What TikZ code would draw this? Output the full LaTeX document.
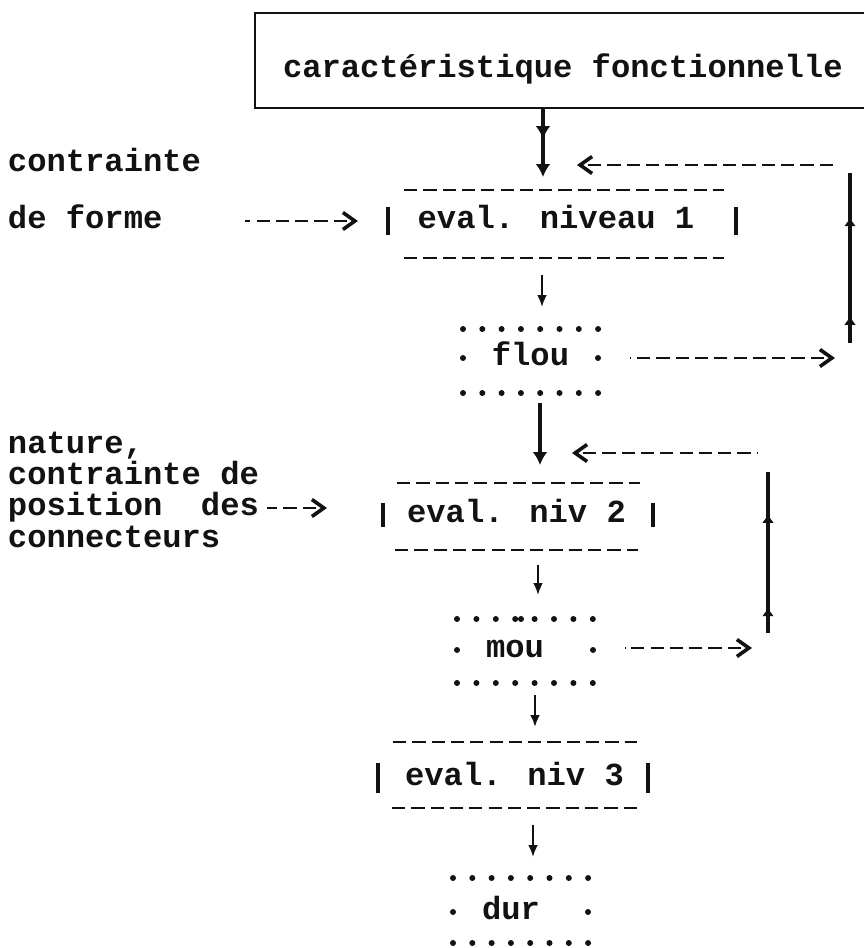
\documentclass[tikz,border=0pt]{standalone}
\usepackage{fontspec}
\newfontfamily\twfont{Liberation Mono}
\usetikzlibrary{arrows.meta,decorations.markings,calc}
\definecolor{ink}{RGB}{18,18,18}
\tikzset{
  tw/.style={font=\twfont\bfseries\fontsize{16.08pt}{19pt}\selectfont, inner sep=0pt, outer sep=0pt, text=ink},
  frame/.style={draw=none, inner sep=0pt, outer sep=0pt},
  boxline/.style={draw=ink, line width=1.4pt},
  bar/.style={draw=ink, line width=1.6pt},
  tdash/.style={draw=ink, line width=1.4pt, dash pattern=on 6.6pt off 3.05pt},
  tdot/.style={fill=ink},
  bigarr/.style={draw=ink, line width=2pt, -{Latex[length=6.5pt,width=7.5pt]}},
  midhead/.style={postaction={decorate}, decoration={markings, mark=at position 0.45 with {\arrow{Latex[length=6.5pt,width=7.5pt]}}}},
  smallarr/.style={draw=ink, line width=1.4pt, -{Latex[length=6pt,width=5pt]}},
  chev/.style={draw=ink, line width=1.4pt, dash pattern=on 6.6pt off 3.05pt, dash phase=6.6pt, {Straight Barb[length=6pt,width=8.5pt,line width=1.8pt]}-},
  upline/.style={draw=ink, line width=2pt, postaction={decorate}, decoration={markings,
     mark=at position 0.16 with {\arrow{Latex[length=4.5pt,width=6pt]}},
     mark=at position 0.74 with {\arrow{Latex[length=4.5pt,width=6pt]}}}},
}
\begin{document}
\begin{tikzpicture}[x=0.5pt,y=-0.5pt]
\useasboundingbox (0,0) rectangle (864,948);

% columns of the vertical flow
\coordinate (a1) at (543,0);
\coordinate (a2) at (542,0);
\coordinate (a3) at (540,0);
\coordinate (a4) at (538,0);
\coordinate (a5) at (535,0);
\coordinate (a6) at (533,0);

% top box (open on the right, cut by the page edge)
\node[frame, anchor=north west, minimum width=304.5pt, minimum height=47.5pt] (cfbox) at (255,13) {};
\draw[boxline] (cfbox.north east) -- (cfbox.north west) -- (cfbox.south west) -- (cfbox.south east);
\node[tw, anchor=base west] (cf) at (283,77) {caractéristique fonctionnelle};

% frames of the boxes
\node[frame, minimum width=174pt, minimum height=34pt] (ev1f) at (562,224) {};
\node[frame, minimum width=67.5pt, minimum height=32pt] (flouf) at (530.5,361) {};
\node[frame, minimum width=135pt, minimum height=33.5pt] (ev2f) at (518,516.5) {};
\node[frame, minimum width=68pt, minimum height=32pt] (mouf) at (525,651) {};
\node[frame, minimum width=135pt, minimum height=33pt] (ev3f) at (513,775) {};
\node[frame, minimum width=67.5pt, minimum height=32.5pt] (durf) at (520.5,910.5) {};

% texts in the boxes
\node[tw, anchor=base] (ev1) at (556,228) {eval. niveau 1};
\node[tw, anchor=base] (flou) at (530.5,365) {flou};
\node[tw, anchor=base] (ev2) at (516.5,522) {eval. niv 2};
\node[tw, anchor=base] (mou) at (515,657) {mou};
\node[tw, anchor=base] (ev3) at (514.5,785) {eval. niv 3};
\node[tw, anchor=base] (dur) at (511,919) {dur};

% left labels
\node[tw, anchor=base west] (lab1a) at (8,171) {contrainte};
\node[tw, anchor=base west] (lab1b) at (8,228) {de forme};
\node[tw, anchor=base west] (lab2a) at (8,453) {nature,};
\node[tw, anchor=base west] (lab2b) at (8,484) {contrainte de};
\node[tw, anchor=base west] (lab2c) at (8,515) {position~~des};
\node[tw, anchor=base west] (lab2d) at (8,547) {connecteurs};

% eval 1 decorations
\draw[bar] (388,207) -- (388,235);
\draw[bar] (736,207) -- (736,235);
\draw[tdash] (404,190) -- (724,190);
\draw[tdash] (404,258) -- (724,258);
% eval 2
\draw[bar] (383,503) -- (383,527);
\draw[bar] (653,503) -- (653,527);
\draw[tdash] (397,483) -- (640,483);
\draw[tdash] (395,550) -- (638,550);
% eval 3
\draw[bar] (378,763) -- (378,793);
\draw[bar] (648,763) -- (648,793);
\draw[tdash] (393,742) -- (637,742);
\draw[tdash] (392,808) -- (637,808);

% dotted boxes
\foreach \k in {0,...,7} {
  \fill[tdot] (463+19.3*\k,329) circle[radius=1.5pt];
  \fill[tdot] (463+19.3*\k,393) circle[radius=1.5pt];
  \fill[tdot] (457+19.4*\k,619) circle[radius=1.5pt];
  \fill[tdot] (457+19.4*\k,683) circle[radius=1.5pt];
  \fill[tdot] (453+19.3*\k,878) circle[radius=1.5pt];
  \fill[tdot] (453+19.3*\k,943) circle[radius=1.5pt];
}
\fill[tdot] (521,619) circle[radius=1.5pt];
\fill[tdot] (463,358) circle[radius=1.5pt];
\fill[tdot] (598,358) circle[radius=1.5pt];
\fill[tdot] (457,650) circle[radius=1.5pt];
\fill[tdot] (593,650) circle[radius=1.5pt];
\fill[tdot] (453,912) circle[radius=1.5pt];
\fill[tdot] (588,912) circle[radius=1.5pt];

% main flow arrows
\draw[bigarr, midhead] (cfbox.south -| a1) -- ($(ev1f.north -| a1)+(0,-13)$);
\draw[smallarr] ($(ev1f.south -| a2)+(0,17)$) -- ($(flouf.north -| a2)+(0,-22)$);
\draw[bigarr] ($(flouf.south -| a3)+(0,10)$) -- ($(ev2f.north -| a3)+(0,-18)$);
\draw[smallarr] ($(ev2f.south -| a4)+(0,15)$) -- ($(mouf.north -| a4)+(0,-24)$);
\draw[smallarr] ($(mouf.south -| a5)+(0,12)$) -- ($(ev3f.north -| a5)+(0,-15)$);
\draw[smallarr] ($(ev3f.south -| a6)+(0,17)$) -- ($(durf.north -| a6)+(0,-21)$);

% feedback loop 1
\coordinate (b1) at (838,165);
\coordinate (f1t) at (835,358);
\draw[chev] ($(a1 |- b1)+(34,0)$) -- (b1);
\draw[chev] (f1t) -- ($(flouf.east |- f1t)+(32,0)$);
\draw[upline] (850,343) -- (850,173);

% feedback loop 2
\coordinate (b2) at (757,453);
\coordinate (f2t) at (752,648);
\draw[chev] ($(a3 |- b2)+(32,0)$) -- (b2);
\draw[chev] (f2t) -- ($(mouf.east |- f2t)+(32,0)$);
\draw[upline] (768,633) -- (768,472);

% input arrows
\draw[chev] ($(ev1f.west |- lab1b.base)+(-30,-7)$) -- ($(lab1b.base east)+(83,-7)$);
\draw[chev] ($(ev2f.west |- lab2c.base)+(-56,-7)$) -- ($(lab2c.base east)+(8,-7)$);
\end{tikzpicture}
\end{document}
